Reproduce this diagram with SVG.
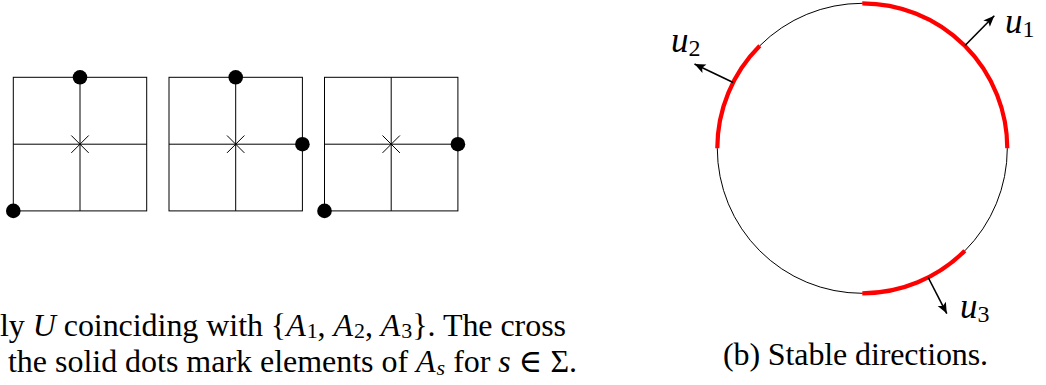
<svg xmlns="http://www.w3.org/2000/svg" width="1046" height="385" viewBox="0 0 1046 385">
<style>
.grid{fill:none;stroke:#000;stroke-width:1}
.dot{fill:#000}
.circ{fill:none;stroke:#000;stroke-width:1}
.red{fill:none;stroke:#ff0000;stroke-width:4.2}
.arr{stroke:#000;stroke-width:1.6;fill:none}
.t{font-family:"Liberation Serif","DejaVu Serif",serif;font-size:32px;fill:#000}
.lab{font-family:"Liberation Serif","DejaVu Serif",serif;font-size:35px;fill:#000}
.m{font-style:italic}
</style>
<defs>
<marker id="ah" markerUnits="userSpaceOnUse" markerWidth="14" markerHeight="12" viewBox="-12 -6 14 12" refX="0" refY="0" orient="auto">
<path d="M0,0 L-11,-4.6 L-8.5,0 L-11,4.6 Z" fill="#000"/>
</marker>
<g id="sq">
<rect class="grid" x="0" y="0" width="133.4" height="133.6"/>
<line class="grid" x1="66.7" y1="0" x2="66.7" y2="133.6"/>
<line class="grid" x1="0" y1="66.9" x2="133.4" y2="66.9"/>
<line class="grid" x1="58" y1="58.2" x2="75.4" y2="75.6"/>
<line class="grid" x1="58" y1="75.6" x2="75.4" y2="58.2"/>
</g>
</defs>

<g id="square1">
<use href="#sq" x="13.3" y="77.3"/>
<circle class="dot" cx="80" cy="77.3" r="7.3"/>
<circle class="dot" cx="13.3" cy="210.9" r="7.3"/>
</g>
<g id="square2">
<use href="#sq" x="169" y="77.3"/>
<circle class="dot" cx="235.7" cy="77.3" r="7.3"/>
<circle class="dot" cx="302.4" cy="144.2" r="7.3"/>
</g>
<g id="square3">
<use href="#sq" x="324.5" y="77.3"/>
<circle class="dot" cx="457.9" cy="144.2" r="7.3"/>
<circle class="dot" cx="324.5" cy="210.9" r="7.3"/>
</g>

<g id="caption-a">
<text class="t" x="0" y="336" textLength="566" lengthAdjust="spacing">ly <tspan class="m">U</tspan> coinciding with {<tspan class="m">A</tspan><tspan font-size="22" dx="1" dy="2">1</tspan><tspan dy="-2">, </tspan><tspan class="m">A</tspan><tspan font-size="22" dx="1" dy="2">2</tspan><tspan dy="-2">, </tspan><tspan class="m">A</tspan><tspan font-size="22" dx="1" dy="2">3</tspan><tspan dy="-2">}.  The cross</tspan></text>
<text class="t" x="8" y="372" textLength="569" lengthAdjust="spacing">the solid dots mark elements of <tspan class="m">A</tspan><tspan class="m" font-size="22" dx="1" dy="3">s</tspan><tspan dy="-3"> for </tspan><tspan class="m">s</tspan> ∈ Σ.</text>
</g>

<g id="circle">
<circle class="circ" cx="862.3" cy="148.3" r="145"/>
<path class="red" d="M862.3,3.3 A145,145 0 0 1 1007.3,148.3"/>
<path class="red" d="M759.8,45.8 A145,145 0 0 0 717.3,148.3"/>
<path class="red" d="M862.3,293.3 A145,145 0 0 0 964.8,250.8"/>
</g>

<g id="connectors">
<line class="arr" x1="964.8" y1="45.8" x2="994.3" y2="15.8" marker-end="url(#ah)"/>
<line class="arr" x1="733.2" y1="82.5" x2="694.5" y2="64" marker-end="url(#ah)"/>
<line class="arr" x1="928.2" y1="277.5" x2="946.8" y2="313.6" marker-end="url(#ah)"/>
</g>

<g id="label-u1"><text class="lab" x="1005" y="33"><tspan class="m">u</tspan><tspan font-size="24" dy="4">1</tspan></text></g>
<g id="label-u2"><text class="lab" x="671" y="52"><tspan class="m">u</tspan><tspan font-size="24" dy="4">2</tspan></text></g>
<g id="label-u3"><text class="lab" x="960" y="318"><tspan class="m">u</tspan><tspan font-size="24" dy="4">3</tspan></text></g>

<g id="caption-b">
<text class="t" x="723" y="365" textLength="265" lengthAdjust="spacing">(b) Stable directions.</text>
</g>
</svg>
